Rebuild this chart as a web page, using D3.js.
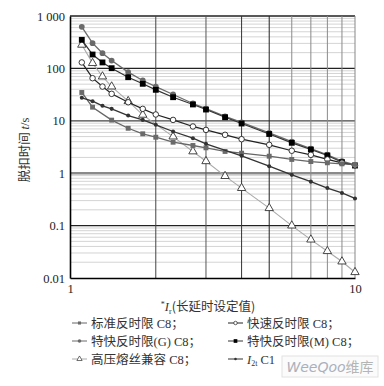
<!DOCTYPE html>
<meta charset="utf-8">
<script src="https://d3js.org/d3.v7.min.js"></script>
<style>
  body { margin: 0; background: #fff; }
  text { font-family: "Liberation Serif", "Noto Sans CJK SC", serif; }
</style>
<div id="chart"></div>
<script>

// ---- data ----
const xFull = [1.1, 1.2, 1.3, 1.4, 1.6, 1.8, 2, 2.3, 2.7, 3, 3.5, 4, 5, 6, 7, 8, 9, 10];

const stdX = [1.1, 1.2, 1.4, 1.6, 1.8, 2, 2.3, 2.7, 3, 3.5, 4, 5, 6, 7, 8, 9, 10];
const stdY = [34.7, 18.2, 10.3, 7.2, 5.65, 4.86, 3.9, 3.38, 3.05, 2.6, 2.41, 2.11, 1.83, 1.67, 1.58, 1.51, 1.47];

const fastY = [130, 65, 45, 32.7, 22.6, 16.9, 13.2, 10.4, 7.8, 6.7, 5.4, 4.46, 3.48, 2.68, 2.24, 1.83, 1.58, 1.42];

const gY = [622, 303, 195, 141, 85, 58.8, 45, 31.8, 21.4, 17, 12.2, 9.3, 5.9, 4.0, 2.95, 2.25, 1.7, 1.44];

const mY = [351, 184, 130, 101, 68, 50.8, 39, 28.2, 20.5, 16.4, 11.7, 8.88, 5.6, 3.8, 2.83, 2.18, 1.62, 1.40];

const fuseX = [1.1, 1.2, 1.3, 1.4, 1.6, 1.8, 2.3, 2.7, 3, 3.5, 4, 5, 6, 7, 8, 9, 10];
const fuseY = [282, 126, 70, 45, 23.7, 13, 5.0, 2.6, 1.69, 0.88, 0.52, 0.215, 0.1, 0.054, 0.0325, 0.0206, 0.0129];

const i2tX = [1.1, 1.2, 1.3, 1.4, 1.6, 1.8, 2, 2.3, 2.7, 3, 4, 5, 6, 7, 8, 9, 10];
const i2tY = [27.5, 23.7, 19.3, 16.9, 12.6, 10.4, 8.4, 6.25, 4.66, 3.64, 2.15, 1.36, 0.93, 0.69, 0.52, 0.42, 0.33];

const yTicks = [0.01, 0.1, 1, 10, 100, 1000];
const yTickLabels = ["0.01", "0.1", "1", "10", "100", "1 000"];
const xTicks = [1, 10];
const xTickLabels = ["1", "10"];

const legendNames = ["标准反时限 C8；", "快速反时限 C8；", "特快反时限(G) C8；", "特快反时限(M) C8；", "高压熔丝兼容 C8；", "I2t C1"];

// ---- layout ----
const W = 384, H = 386;
const plot = {left: 70, right: 355, top: 16, bottom: 278};

const svg = d3.select("#chart")
  .append("svg")
  .attr("width", W)
  .attr("height", H);

const x = d3.scaleLog().domain([1, 10]).range([plot.left, plot.right]);
const y = d3.scaleLog().domain([0.01, 1000]).range([plot.bottom, plot.top]);

// minor horizontal grid
const minors = [];
for (let e = -2; e < 3; e++) for (let k = 2; k <= 9; k++) minors.push(k * Math.pow(10, e));
svg.append("g").selectAll("line").data(minors).join("line")
  .attr("x1", plot.left).attr("x2", plot.right)
  .attr("y1", d => y(d)).attr("y2", d => y(d))
  .attr("stroke", "#cfcfcf").attr("stroke-width", 0.9);

// major horizontal lines
const majorStyle = {100: ["#222", 1.2], 10: ["#444", 1.2], 1: ["#8a8a8a", 2.4], 0.1: ["#222", 1.2], 1000: ["#222", 1.3]};
svg.append("g").selectAll("line").data([1000, 100, 10, 1, 0.1]).join("line")
  .attr("x1", plot.left).attr("x2", plot.right)
  .attr("y1", d => y(d)).attr("y2", d => y(d))
  .attr("stroke", d => majorStyle[d][0]).attr("stroke-width", d => majorStyle[d][1]);

// vertical grid
const vcol = {2: "#444", 3: "#555", 4: "#333", 5: "#222", 6: "#8a8a8a", 7: "#8a8a8a", 8: "#8a8a8a", 9: "#8a8a8a", 10: "#888"};
svg.append("g").selectAll("line").data([2, 3, 4, 5, 6, 7, 8, 9, 10]).join("line")
  .attr("x1", d => x(d)).attr("x2", d => x(d))
  .attr("y1", plot.top).attr("y2", plot.bottom)
  .attr("stroke", d => vcol[d]).attr("stroke-width", 1);

// axes
svg.append("g")
  .attr("transform", `translate(${plot.left},0)`)
  .call(d3.axisLeft(y).tickValues(yTicks).tickSize(0).tickPadding(5)
    .tickFormat((d, i) => yTickLabels[i]))
  .call(g => g.select(".domain").attr("stroke", "#000").attr("stroke-width", 1.6))
  .call(g => g.selectAll("text").attr("font-size", 12.5).attr("fill", "#222")
    .style("font-family", "'Liberation Serif', serif"));

svg.append("g")
  .attr("transform", `translate(0,${plot.bottom})`)
  .call(d3.axisBottom(x).tickValues(xTicks).tickSize(0).tickPadding(6)
    .tickFormat((d, i) => xTickLabels[i]))
  .call(g => g.select(".domain").attr("stroke", "#000").attr("stroke-width", 1.6))
  .call(g => g.selectAll("text").attr("font-size", 12.5).attr("fill", "#222")
    .style("font-family", "'Liberation Serif', serif"));

// series
const series = [
  {xs: stdX, ys: stdY, line: "#666", width: 1.3, sym: d3.symbolSquare, size: 24, fill: "#6a6a6a", stroke: "none"},
  {xs: xFull, ys: fastY, line: "#222", width: 1.2, sym: d3.symbolCircle, size: 24, fill: "#fff", stroke: "#222"},
  {xs: xFull, ys: gY, line: "#6a6a6a", width: 1.3, sym: d3.symbolCircle, size: 26, fill: "#6a6a6a", stroke: "none"},
  {xs: xFull, ys: mY, line: "#333", width: 1.2, sym: d3.symbolSquare, size: 34, fill: "#000", stroke: "none"},
  {xs: fuseX, ys: fuseY, line: "#aaa", width: 1.1, sym: d3.symbolTriangle, size: 30, fill: "#fff", stroke: "#333"},
  {xs: i2tX, ys: i2tY, line: "#333", width: 1.3, sym: d3.symbolCircle, size: 13, fill: "#333", stroke: "none"}
];

const lineGen = d3.line().x(d => x(d[0])).y(d => y(d[1]));
const drawOrder = [4, 2, 3, 1, 0, 5];

drawOrder.forEach(i => {
  const s = series[i];
  const pts = s.xs.map((v, j) => [v, s.ys[j]]);
  svg.append("path").datum(pts)
    .attr("d", lineGen).attr("fill", "none")
    .attr("stroke", s.line).attr("stroke-width", s.width);
  svg.append("g").selectAll("path").data(pts).join("path")
    .attr("transform", d => `translate(${x(d[0])},${y(d[1])})`)
    .attr("d", d3.symbol().type(s.sym).size(s.size))
    .attr("fill", s.fill).attr("stroke", s.stroke).attr("stroke-width", 0.9);
});

// axis titles
const yTitle = svg.append("text")
  .attr("transform", "translate(29,150) rotate(-90)")
  .attr("text-anchor", "middle").attr("font-size", 12.5).attr("fill", "#333");
yTitle.append("tspan").text("脱扣时间 ").style("font-family", "'Noto Sans CJK SC'");
yTitle.append("tspan").text("t").attr("font-style", "italic");
yTitle.append("tspan").text("/s");

const xTitle = svg.append("text")
  .attr("x", 208).attr("y", 311)
  .attr("text-anchor", "middle").attr("font-size", 12.5).attr("fill", "#333");
xTitle.append("tspan").text("*").attr("font-size", 8).attr("dy", -4);
xTitle.append("tspan").text("I").attr("font-style", "italic").attr("dy", 4);
xTitle.append("tspan").text("r").attr("font-size", 8).attr("dy", 3);
xTitle.append("tspan").text("(长延时设定值)").attr("dy", -3).style("font-family", "'Noto Sans CJK SC'");

// legend
const legend = svg.append("g");
series.forEach((s, i) => {
  const col = i % 2, row = Math.floor(i / 2);
  const lx = col === 0 ? 72 : 228, ly = 323 + row * 18;
  const g = legend.append("g").attr("transform", `translate(${lx},${ly})`);
  g.append("line").attr("x1", 0).attr("x2", 15).attr("y1", 0).attr("y2", 0)
    .attr("stroke", s.line).attr("stroke-width", 1);
  g.append("path").attr("transform", "translate(7.5,0)")
    .attr("d", d3.symbol().type(s.sym).size(s.size * 0.4))
    .attr("fill", s.fill).attr("stroke", s.stroke).attr("stroke-width", 0.7);
  const t = g.append("text").attr("x", 19).attr("y", 4.5)
    .attr("font-size", 12.5).attr("fill", "#333");
  if (i === 5) {
    t.append("tspan").text("I").attr("font-style", "italic");
    t.append("tspan").text("2t").attr("font-size", 8).attr("dy", 2);
    t.append("tspan").text(" C1").attr("dy", -2);
  } else {
    t.text(legendNames[i]);
  }
});

// watermark
svg.append("rect").attr("x", 282).attr("y", 356).attr("width", 96).attr("height", 21)
  .attr("fill", "#fbfbfb").attr("stroke", "#e2e2e2");
const wm = svg.append("text").attr("x", 330).attr("y", 372).attr("text-anchor", "middle")
  .attr("font-size", 14).attr("fill", "#aab0bb");
wm.append("tspan").text("WeeQoo").attr("font-style", "italic").style("font-family", "'DejaVu Sans'");
wm.append("tspan").text("维库").style("font-family", "'Noto Sans CJK SC'").attr("fill", "#b5b5b5");

</script>
